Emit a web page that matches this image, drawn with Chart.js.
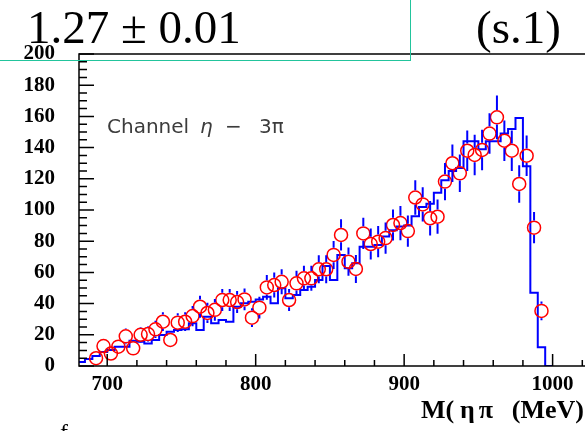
<!DOCTYPE html>
<html lang="en">
<head>
<meta charset="UTF-8">
<title>M(ηπ) - Channel η − 3π</title>
<script src="https://cdn.jsdelivr.net/npm/chart.js"></script>
<style>
  html, body { margin: 0; padding: 0; background: #fff; }
  #wrap { position: relative; width: 585px; height: 431px; overflow: hidden; background: #fff; }
  #massChart { position: absolute; left: 0; top: 0; }
  .txt { position: absolute; white-space: pre; color: #000; }
  .serif { font-family: "Liberation Serif", "Times New Roman", serif; }
  .big { font-size: 47px; line-height: 47px; }
  .channel { font-family: "DejaVu Sans", sans-serif; font-size: 20px; line-height: 20px; color: #3c3c3c; }
  .xtitle { font-size: 26px; line-height: 26px; font-weight: bold; }
  #fitBox { position: absolute; left: 0; top: 0; width: 411px; height: 61px; box-sizing: border-box;
            border-right: 1.5px solid #22c49c; border-bottom: 1.5px solid #22c49c; z-index: 2; }
</style>
</head>
<body>
<div id="wrap">
  <canvas id="massChart" width="620" height="431"></canvas>
  <div id="fitBox"></div>
  <div class="txt serif big" style="left:27px; top:4px;">1.27 ± 0.01</div>
  <div class="txt serif big" style="left:476px; top:4px;">(s.1)</div>
  <div class="txt channel" style="left:107px; top:116px;">Channel</div>
  <div class="txt channel" style="left:200px; top:116px; font-style:italic;">η</div>
  <div class="txt channel" style="left:225px; top:116px;">−</div>
  <div class="txt channel" style="left:259px; top:116px;">3π</div>
  <div class="txt serif xtitle" style="left:421px; top:397px;">M(</div>
  <div class="txt serif xtitle" style="left:460px; top:397px; letter-spacing:4px;">ηπ</div>
  <div class="txt serif xtitle" style="right:1px; top:397px;">(MeV)</div>
  <div class="txt serif" style="left:60px; top:420px; font-size:24px; line-height:24px;">f</div>
</div>

<script>
    // Data: eta-pi invariant mass, 5 MeV bins (bin centres in MeV)
    const dataMass = [
        692.5, 697.5, 702.5, 707.5, 712.5, 717.5, 722.5, 727.5, 732.5, 737.5,
        742.5, 747.5, 752.5, 757.5, 762.5, 767.5, 772.5, 777.5, 782.5, 787.5,
        792.5, 797.5, 802.5, 807.5, 812.5, 817.5, 822.5, 827.5, 832.5, 837.5,
        842.5, 847.5, 852.5, 857.5, 862.5, 867.5, 872.5, 877.5, 882.5, 887.5,
        892.5, 897.5, 902.5, 907.5, 912.5, 917.5, 922.5, 927.5, 932.5, 937.5,
        942.5, 947.5, 952.5, 957.5, 962.5, 967.5, 972.5, 977.5, 982.5, 987.5,
        992.5
    ];
    const dataCounts = [
        5, 12.8, 8, 12.4, 19, 11.3, 20, 20.5, 23.5, 28.4,
        16.7, 27.8, 28.4, 32, 38, 34, 36, 42.3, 42.3, 41,
        42.7, 31, 37.4, 50.4, 51.9, 54, 42.3, 53, 56.2, 56.2,
        62, 62, 71.2, 84, 66.9, 62.2, 85, 78.2, 79.7, 82,
        90.4, 91.6, 86.5, 108, 103.6, 94.7, 95.7, 118.2, 130, 123.5,
        138, 135.3, 138.5, 149, 159.4, 144.4, 138, 116.7, 134.8, 88.7,
        35.3
    ];
    const dataErrors = [
        2.5, 4, 3, 4, 5, 4, 5, 5, 5.5, 6,
        4.5, 6, 6, 6.5, 7, 6.5, 7, 7, 7, 7,
        7, 6, 7, 8, 8, 8, 7, 8, 8, 8,
        9, 9, 9, 10, 9, 9, 10, 10, 10, 10,
        10, 11, 10, 11, 11, 11, 11, 12, 12, 12,
        13, 13, 13, 13, 14, 13, 13, 12, 13, 10,
        6
    ];

    // Monte Carlo histogram, same 5 MeV binning
    const mcMass = [
        682.5, 687.5, 692.5, 697.5, 702.5, 707.5, 712.5, 717.5, 722.5, 727.5,
        732.5, 737.5, 742.5, 747.5, 752.5, 757.5, 762.5, 767.5, 772.5, 777.5,
        782.5, 787.5, 792.5, 797.5, 802.5, 807.5, 812.5, 817.5, 822.5, 827.5,
        832.5, 837.5, 842.5, 847.5, 852.5, 857.5, 862.5, 867.5, 872.5, 877.5,
        882.5, 887.5, 892.5, 897.5, 902.5, 907.5, 912.5, 917.5, 922.5, 927.5,
        932.5, 937.5, 942.5, 947.5, 952.5, 957.5, 962.5, 967.5, 972.5, 977.5,
        982.5, 987.5, 992.5, 997.5
    ];
    const mcCounts = [
        2.5, 4.5, 6.4, 9, 10.3, 12.4, 12.4, 16.2, 15.6, 14.5,
        16.7, 19.9, 22, 23.1, 23.5, 27.4, 23.1, 31.6, 27.4, 29.5,
        28.4, 38, 40.2, 41.2, 42.7, 44.4, 40.2, 49.8, 43.4, 45.5,
        48.7, 50.8, 55.1, 64.1, 55.1, 71.2, 62.6, 65.8, 76.5, 76.5,
        77.6, 83, 87, 89.5, 90, 96, 102, 104, 111, 119,
        125, 127, 144, 144, 139, 144, 144, 149, 152, 159,
        128, 47, 12, 0
    ];
    const mcBinWidth = 5;

    const xTickValues = [700, 800, 900, 1000];
    const yTickValues = [0, 20, 40, 60, 80, 100, 120, 140, 160, 180, 200];

    const tickFont = { family: '"Liberation Serif", "Times New Roman", serif', size: 21, weight: 'bold' };

    // histogram outline: one point per left bin edge, plus the closing right edge
    const mcLine = mcMass.map((m, i) => ({ x: m - mcBinWidth / 2, y: mcCounts[i] }));
    mcLine.push({ x: mcMass[mcMass.length - 1] + mcBinWidth / 2, y: mcCounts[mcCounts.length - 1] });

    const dataPoints = dataMass.map((m, i) => ({ x: m, y: dataCounts[i] }));

    const markerRadius = 6.5;

    // vertical error bars, left open inside the circle marker
    const errorBars = {
        id: 'errorBars',
        afterDatasetsDraw(chart) {
            const { ctx, scales: { x, y } } = chart;
            const gap = markerRadius + 0.75;
            ctx.save();
            ctx.strokeStyle = '#0000ff';
            ctx.lineWidth = 2;
            ctx.beginPath();
            dataMass.forEach((m, i) => {
                const px = x.getPixelForValue(m);
                const py = y.getPixelForValue(dataCounts[i]);
                const top = y.getPixelForValue(dataCounts[i] + dataErrors[i]);
                const bot = y.getPixelForValue(dataCounts[i] - dataErrors[i]);
                if (py - top > gap) { ctx.moveTo(px, top); ctx.lineTo(px, py - gap); }
                if (bot - py > gap) { ctx.moveTo(px, py + gap); ctx.lineTo(px, bot); }
            });
            ctx.stroke();
            ctx.restore();
        }
    };

    // frame with inward ticks (major + minor)
    const frameTicks = {
        id: 'frameTicks',
        afterDraw(chart) {
            const { ctx, chartArea: a, scales: { x, y } } = chart;
            ctx.save();
            ctx.strokeStyle = '#000';
            ctx.lineWidth = 1.5;
            ctx.strokeRect(a.left, a.top, a.right - a.left, a.bottom - a.top);
            ctx.beginPath();
            for (let v = 0; v <= 200; v += 5) {
                const py = y.getPixelForValue(v);
                const len = v % 20 === 0 ? 15 : 8;
                ctx.moveTo(a.left, py);
                ctx.lineTo(a.left + len, py);
            }
            for (let v = 700; v <= 1040; v += 20) {
                const px = x.getPixelForValue(v);
                const len = v % 100 === 0 ? 12 : 6;
                ctx.moveTo(px, a.bottom);
                ctx.lineTo(px, a.bottom - len);
            }
            ctx.stroke();
            ctx.restore();
        }
    };

    const ctx = document.getElementById('massChart').getContext('2d');
    new Chart(ctx, {
        type: 'line',
        data: {
            datasets: [{
                label: 'Data',
                data: dataPoints,
                showLine: false,
                pointRadius: markerRadius,
                pointBorderWidth: 1.5,
                pointBorderColor: '#ff0000',
                pointBackgroundColor: 'rgba(0,0,0,0)',
                order: 0
            }, {
                label: 'MC',
                data: mcLine,
                stepped: true,
                borderColor: '#0000ff',
                borderWidth: 2,
                pointRadius: 0,
                fill: false,
                tension: 0,
                order: 1
            }]
        },
        options: {
            responsive: false,
            animation: false,
            events: [],
            layout: { padding: { top: 54, right: 5, left: 0, bottom: 0 } },
            plugins: {
                legend: { display: false },
                tooltip: { enabled: false }
            },
            scales: {
                x: {
                    type: 'linear',
                    min: 681,
                    max: 1040,
                    afterBuildTicks: s => { s.ticks = xTickValues.map(v => ({ value: v })); },
                    afterFit: s => { s.height = 65; },
                    grid: { display: false, drawTicks: false },
                    border: { display: false },
                    ticks: {
                        font: tickFont,
                        color: '#000',
                        padding: 6,
                        maxRotation: 0,
                        autoSkip: false,
                        callback: v => String(v)
                    }
                },
                y: {
                    type: 'linear',
                    min: 0,
                    max: 200,
                    afterBuildTicks: s => { s.ticks = yTickValues.map(v => ({ value: v })); },
                    afterFit: s => { s.width = 79; },
                    grid: { display: false, drawTicks: false },
                    border: { display: false },
                    ticks: {
                        font: tickFont,
                        color: '#000',
                        padding: 24,
                        autoSkip: false,
                        callback: v => String(v)
                    }
                }
            }
        },
        plugins: [errorBars, frameTicks]
    });
</script>
</body>
</html>
